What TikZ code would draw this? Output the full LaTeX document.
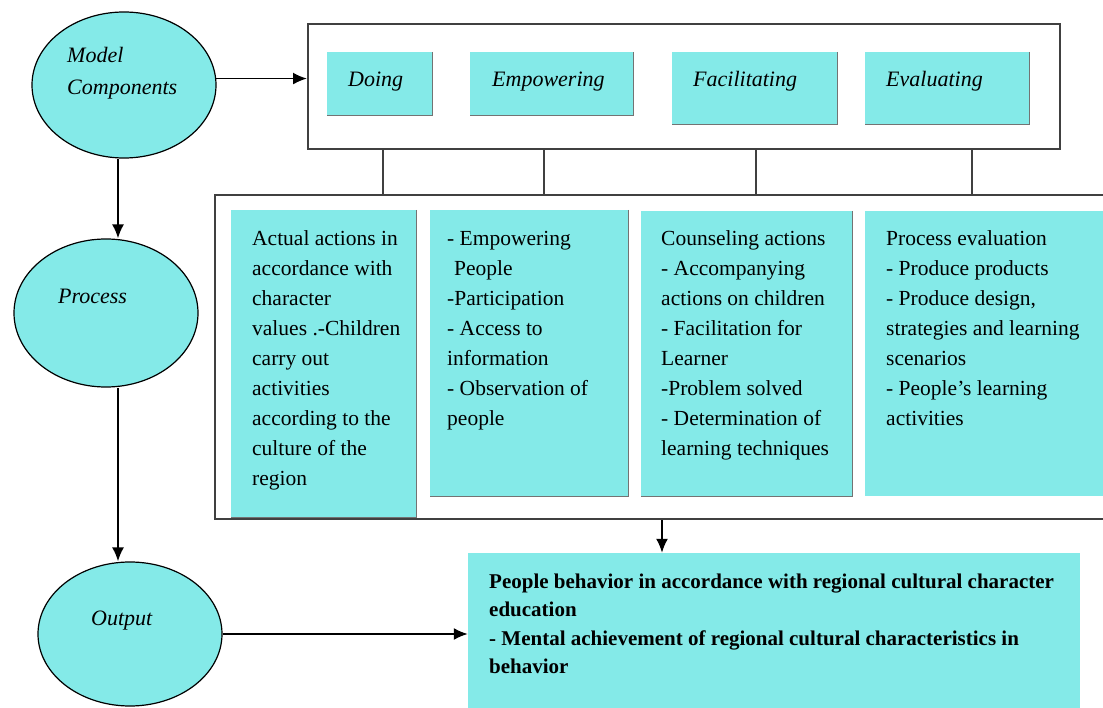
\documentclass[tikz,border=0pt]{standalone}
\usepackage{fontspec}
\setmainfont{Liberation Serif}
\usetikzlibrary{shapes.geometric,arrows.meta}
\definecolor{boxcyan}{RGB}{132,234,232}
\definecolor{framegray}{RGB}{64,64,64}

\begin{document}
\begin{tikzpicture}[x=1pt,y=-1pt,
    txt/.style={inner sep=0pt,align=left,anchor=north west,font=\fontsize{21.5}{30}\selectfont},
    ital/.style={inner sep=0pt,anchor=base west,font=\fontsize{22}{32}\selectfont\itshape},
    cbox/.style={rectangle,fill=boxcyan,inner sep=0pt},
    frame/.style={rectangle,draw=framegray,line width=2pt,inner sep=0pt},
    link/.style={draw=framegray,line width=1.6pt},
    arr/.style={-{Latex[length=14pt,width=12pt]},line width=1.8pt},
    rim/.style={draw=black!55,line width=1pt}]
  \clip (0,0) rectangle (1103,708);
  \coordinate (spine) at (118,0);
  % model stages
  \begin{scope}[every node/.style={ellipse,draw=black,line width=1.2pt,fill=boxcyan,inner sep=0pt,minimum width=184}]
    \node[minimum height=146] (mc) at (124,85) {};
    \node[minimum height=148] (proc) at (106,313) {};
    \node[minimum height=144] (outp) at (130,634) {};
  \end{scope}
  \node[ital,anchor=north west,align=left] (tmc) at (67,39.6) {\strut Model\\Components};
  \node[ital] (tproc) at (58,304) {Process};
  \node[ital] (toutp) at (91,625) {Output};
  % frames
  \node[frame,minimum width=752,minimum height=125] (topframe) at (684,86.5) {};
  \node[frame,minimum width=910,minimum height=324] (lowframe) at (670,357) {};
  % components
  \node[cbox,minimum width=105,minimum height=63] (bdoing) at (379.5,83.5) {};
  \node[cbox,minimum width=163,minimum height=63] (bemp) at (551.5,83.5) {};
  \node[cbox,minimum width=165,minimum height=72] (bfac) at (754.5,88) {};
  \node[cbox,minimum width=164,minimum height=72] (beval) at (947,88) {};
  \node[ital] (tdoing) at (348,87) {Doing};
  \node[ital] (temp) at (492,87) {Empowering};
  \node[ital] (tfac) at (693,87) {Facilitating};
  \node[ital] (teval) at (886,87) {Evaluating};
  % process details
  \node[cbox,minimum width=185,minimum height=307] (b1) at (323.5,363.5) {};
  \node[cbox,minimum width=198,minimum height=286] (b2) at (529,353) {};
  \node[cbox,minimum width=211,minimum height=285] (b3) at (746.5,353.5) {};
  \node[cbox,minimum width=255,minimum height=285] (b4) at (992.5,353.5) {};
  \foreach \b in {bdoing,bemp,bfac,beval,b1,b2,b3}
    \draw[rim] (\b.north east) -- (\b.south east) -- (\b.south west);
  \node[txt] (t1) at (252,224) {\strut Actual actions in\\accordance with\\character\\values .-Children\\carry out\\activities\\according to the\\culture of the\\region};
  \node[txt] (t2) at (447,224) {\strut - Empowering\\\hspace*{7pt}People\\-Participation\\- Access to\\information\\- Observation of\\people};
  \node[txt] (t3) at (661,224) {\strut Counseling actions\\- Accompanying\\actions on children\\- Facilitation for\\Learner\\-Problem solved\\- Determination of\\learning techniques};
  \node[txt] (t4) at (886,224) {\strut Process evaluation\\- Produce products\\- Produce design,\\strategies and learning\\scenarios\\- People's learning\\activities};
  % output
  \node[cbox,minimum width=612,minimum height=167] (outbox) at (774,636.5) {};
  \node[txt,font=\fontsize{21}{28.5}\selectfont\bfseries] (tout) at (489,568) {\strut People behavior in accordance with regional cultural character\\education\\- Mental achievement of regional cultural characteristics in\\behavior};
  % connectors
  \foreach \x in {383,544,756,972}
    \draw[link] (topframe.south -| \x,0) -- (lowframe.north -| \x,0);
  \draw[arr] (mc.4) -- (mc.4 -| topframe.west);
  \draw[arr] (mc.south -| spine) -- (proc.north -| spine);
  \draw[arr] (proc.south -| spine) -- (outp.north -| spine);
  \draw[arr] (outp.east) -- (outp.east -| outbox.west);
  \draw[arr] (lowframe.south -| 662,0) -- (outbox.north -| 662,0);
\end{tikzpicture}
\end{document}
